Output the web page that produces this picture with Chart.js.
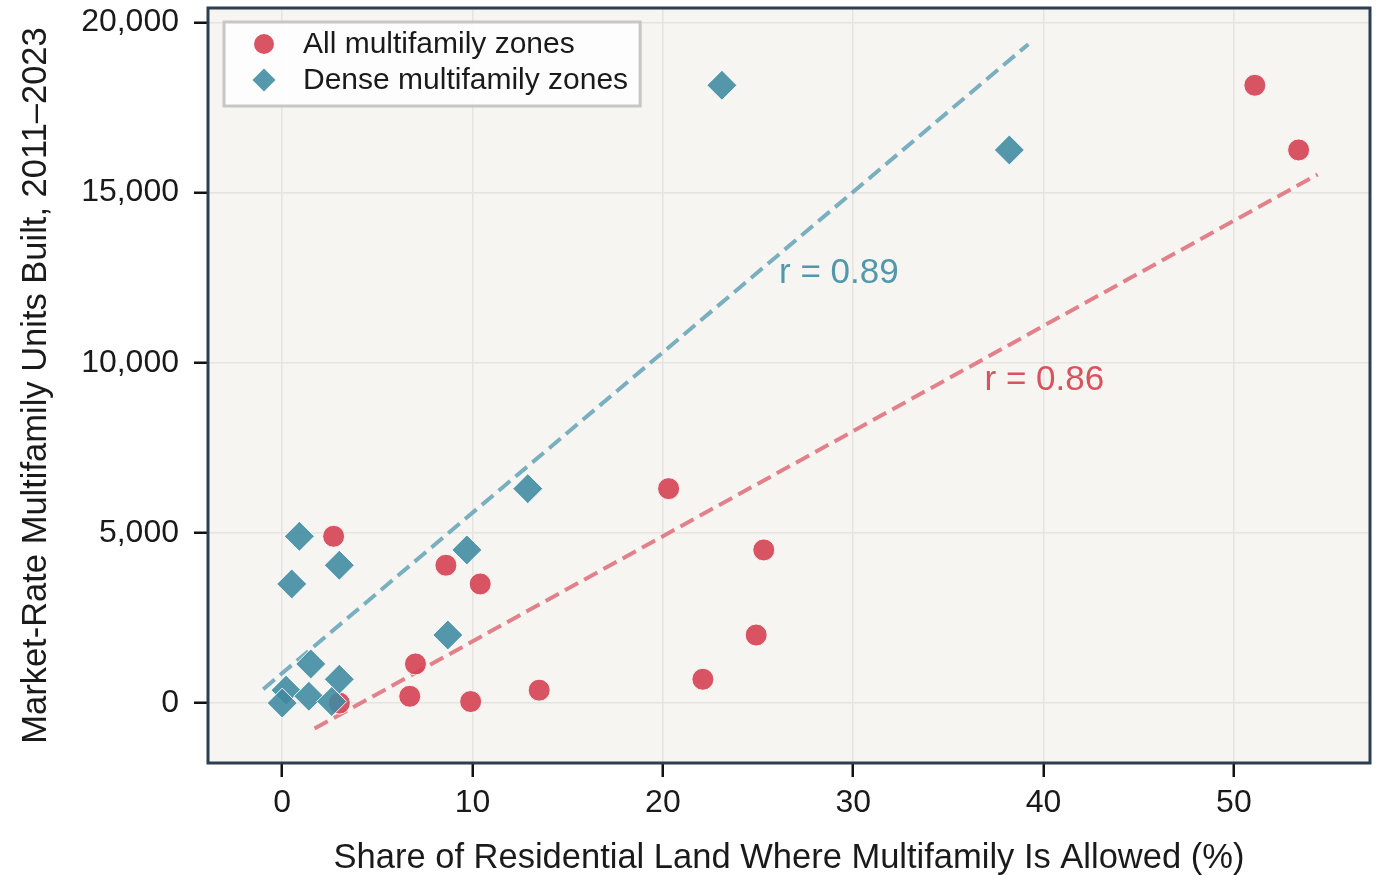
<!DOCTYPE html>
<html>
<head>
<meta charset="utf-8">
<script src="https://cdn.jsdelivr.net/npm/chart.js@4.4.1/dist/chart.umd.min.js"></script>
<style>
  html, body { margin: 0; padding: 0; background: #fff; }
  #wrap { width: 1381px; height: 875px; position: relative; }
</style>
</head>
<body>
<div id="wrap"><canvas id="chart"></canvas></div>
<script>
// share of residential land (%) vs market-rate multifamily units built
const allShare = [51.1, 53.4, 20.3, 25.3, 24.9, 22.1, 2.7, 8.6, 10.4, 7.0, 6.7, 9.9, 13.5, 3.0];
const allUnits = [18150, 16250, 6300, 4500, 2000, 700, 4900, 4050, 3500, 1150, 200, 45, 380, 0];
const denseShare = [23.1, 38.2, 12.9, 9.7, 0.9, 3.0, 0.5, 8.7, 1.5, 3.0, 0.2, 1.4, 2.6, 0.0];
const denseUnits = [18150, 16250, 6300, 4500, 4900, 4050, 3500, 2000, 1150, 700, 380, 200, 45, 0];
const seriesNames = ['All multifamily zones', 'Dense multifamily zones'];
const xTicks = [0, 10, 20, 30, 40, 50];
const yTicks = [0, 5000, 10000, 15000, 20000];

const FONT = '"Liberation Sans", Arial, sans-serif';
const RED = 'rgba(214, 66, 82, 0.9)';
const TEAL = 'rgba(62, 138, 160, 0.88)';

const toPoints = (xs, ys) => xs.map((x, i) => ({ x: x, y: ys[i] }));

// least squares fit + pearson r, line runs 1 unit past the data on each side
function fit(xs, ys) {
    const n = xs.length;
    const mx = xs.reduce((a, b) => a + b, 0) / n;
    const my = ys.reduce((a, b) => a + b, 0) / n;
    let sxy = 0, sxx = 0, syy = 0;
    xs.forEach((x, i) => {
        sxy += (x - mx) * (ys[i] - my);
        sxx += (x - mx) * (x - mx);
        syy += (ys[i] - my) * (ys[i] - my);
    });
    const slope = sxy / sxx;
    const icpt = my - slope * mx;
    const x0 = Math.min(...xs) - 1;
    const x1 = Math.max(...xs) + 1;
    return {
        r: sxy / Math.sqrt(sxx * syy),
        line: [{ x: x0, y: icpt + slope * x0 }, { x: x1, y: icpt + slope * x1 }]
    };
}

const allFit = fit(allShare, allUnits);
const denseFit = fit(denseShare, denseUnits);

const plotBg = {
    id: 'plotBg',
    beforeDraw(chart) {
        const { ctx, chartArea: a } = chart;
        ctx.save();
        ctx.fillStyle = '#f6f5f2';
        ctx.fillRect(a.left, a.top, a.right - a.left, a.bottom - a.top);
        ctx.restore();
    },
    afterDraw(chart) {
        const { ctx, chartArea: a } = chart;
        ctx.save();
        ctx.strokeStyle = '#2c3e50';
        ctx.lineWidth = 3;
        ctx.strokeRect(a.left, a.top, a.right - a.left, a.bottom - a.top);
        ctx.restore();
    }
};

const rLabels = {
    id: 'rLabels',
    afterDatasetsDraw(chart) {
        const { ctx, scales: { x, y } } = chart;
        const items = [
            { r: denseFit.r, at: [26.1, 12630], color: 'rgb(82, 152, 172)' },
            { r: allFit.r, at: [36.9, 9490], color: 'rgb(217, 82, 94)' }
        ];
        ctx.save();
        ctx.font = '35px ' + FONT;
        ctx.textAlign = 'left';
        ctx.textBaseline = 'middle';
        items.forEach(it => {
            ctx.fillStyle = it.color;
            ctx.fillText('r = ' + it.r.toFixed(2), x.getPixelForValue(it.at[0]), y.getPixelForValue(it.at[1]));
        });
        ctx.restore();
    }
};

const boxLegend = {
    id: 'boxLegend',
    afterDatasetsDraw(chart) {
        const { ctx, chartArea: a } = chart;
        const left = a.left + 16, top = a.top + 14;
        const markX = left + 40, textX = left + 79;
        ctx.save();
        ctx.font = '30px ' + FONT;
        const w = Math.max(...seriesNames.map(s => ctx.measureText(s).width));
        const boxW = textX - left + w + 12, boxH = 84;
        ctx.fillStyle = 'rgba(253,253,253,0.95)';
        ctx.fillRect(left, top, boxW, boxH);
        ctx.strokeStyle = '#c6c6c6';
        ctx.lineWidth = 3;
        ctx.strokeRect(left, top, boxW, boxH);
        const rows = [top + 22, top + 58];
        // circle
        ctx.fillStyle = RED;
        ctx.beginPath();
        ctx.arc(markX, rows[0], 10, 0, Math.PI * 2);
        ctx.fill();
        // diamond
        ctx.fillStyle = TEAL;
        ctx.beginPath();
        ctx.moveTo(markX - 11.5, rows[1]);
        ctx.lineTo(markX, rows[1] - 11.5);
        ctx.lineTo(markX + 11.5, rows[1]);
        ctx.lineTo(markX, rows[1] + 11.5);
        ctx.closePath();
        ctx.fill();
        ctx.fillStyle = '#1a1a1a';
        ctx.textBaseline = 'middle';
        seriesNames.forEach((s, i) => ctx.fillText(s, textX, rows[i] + 1));
        ctx.restore();
    }
};

new Chart(document.getElementById('chart'), {
    type: 'scatter',
    data: {
        datasets: [
            {
                label: seriesNames[0] + ' trend',
                data: allFit.line,
                showLine: true,
                pointRadius: 0,
                borderColor: 'rgba(222, 100, 112, 0.8)',
                borderWidth: 4,
                borderDash: [15, 7],
                order: 4
            },
            {
                label: seriesNames[1] + ' trend',
                data: denseFit.line,
                showLine: true,
                pointRadius: 0,
                borderColor: 'rgba(90, 158, 178, 0.8)',
                borderWidth: 4,
                borderDash: [15, 7],
                order: 3
            },
            {
                label: seriesNames[0],
                data: toPoints(allShare, allUnits),
                pointStyle: 'circle',
                pointRadius: 11,
                backgroundColor: RED,
                borderColor: 'rgba(255,255,255,0.9)',
                borderWidth: 1,
                order: 2
            },
            {
                label: seriesNames[1],
                data: toPoints(denseShare, denseUnits),
                pointStyle: 'rectRot',
                pointRadius: 15,
                backgroundColor: TEAL,
                borderColor: 'rgba(255,255,255,0.9)',
                borderWidth: 1,
                order: 1
            }
        ]
    },
    options: {
        responsive: true,
        maintainAspectRatio: false,
        animation: false,
        layout: { autoPadding: false, padding: { left: 0, top: 8, right: 11, bottom: 0 } },
        plugins: {
            legend: { display: false },
            tooltip: { enabled: false }
        },
        scales: {
            x: {
                type: 'linear',
                min: -3.9,
                max: 57.15,
                afterBuildTicks: (s) => { s.ticks = xTicks.map(v => ({ value: v })); },
                afterFit: (s) => { s.height = 112; s.paddingLeft = 0; s.paddingRight = 0; },
                border: { display: false },
                grid: { color: '#e6e4e0', lineWidth: 1.5, tickColor: '#111', tickWidth: 2.5, tickLength: 14 },
                ticks: { color: '#1a1a1a', font: { family: FONT, size: 32 }, padding: 7, maxRotation: 0 },
                title: {
                    display: true,
                    text: 'Share of Residential Land Where Multifamily Is Allowed (%)',
                    color: '#1a1a1a',
                    font: { family: FONT, size: 34.5 },
                    padding: { top: 0, bottom: -4 }
                }
            },
            y: {
                type: 'linear',
                min: -1760,
                max: 20420,
                afterBuildTicks: (s) => { s.ticks = yTicks.map(v => ({ value: v })); },
                afterFit: (s) => { s.width = 208; s.paddingTop = 0; s.paddingBottom = 0; },
                border: { display: false },
                grid: { color: '#e6e4e0', lineWidth: 1.5, tickColor: '#111', tickWidth: 2.5, tickLength: 14 },
                ticks: {
                    color: '#1a1a1a',
                    font: { family: FONT, size: 32 },
                    padding: 15,
                    callback: (v) => v.toLocaleString('en-US')
                },
                title: {
                    display: true,
                    text: 'Market-Rate Multifamily Units Built, 2011\u20132023',
                    color: '#1a1a1a',
                    font: { family: FONT, size: 34.5 },
                    padding: { top: 16, bottom: 0 }
                }
            }
        }
    },
    plugins: [plotBg, rLabels, boxLegend]
});
</script>
</body>
</html>
